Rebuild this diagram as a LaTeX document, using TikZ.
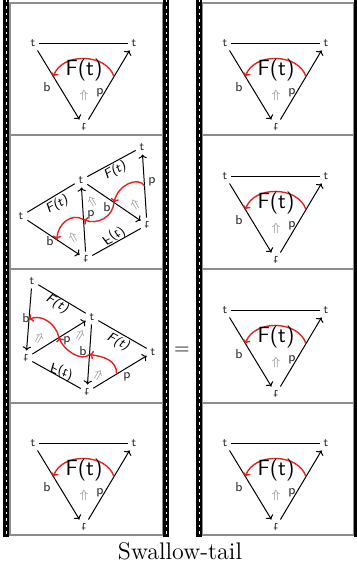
\documentclass[tikz,border=0pt]{standalone}
\usepackage{amsmath, amssymb}
\usepackage{tikz}
\usetikzlibrary{arrows.meta, calc}
\definecolor{arccolor}{RGB}{230,35,35}
\definecolor{framecolor}{RGB}{140,140,140}

\begin{document}
\begin{tikzpicture}[
    x=0.5pt, y=-0.5pt,
    vtx/.style={font=\sffamily\fontsize{6}{7}\selectfont, text=black!85, inner sep=1.8pt},
    vtxf/.style={vtx, yscale=-1},
    lab/.style={font=\sffamily\fontsize{6.5}{7}\selectfont, text=black!85, inner sep=0pt},
    bigf/.style={font=\sffamily\fontsize{11}{12}\selectfont, inner sep=0pt},
    slantf/.style={font=\sffamily\slshape\fontsize{6.5}{8}\selectfont, inner sep=0pt},
    uparr/.style={text=black!45, font=\fontsize{6}{7}\selectfont, inner sep=0pt},
    arrow/.style={-{To[length=2pt]}, line width=0.5pt},
    flatline/.style={line width=0.5pt},
    redarc/.style={-{To[length=2pt]}, arccolor, line width=0.7pt},
    filmbar/.style={line width=3pt},
    perf/.style={white, line width=0.4pt, dash pattern=on 1.2pt off 2pt},
    framebox/.style={framecolor, line width=0.7pt}
]
\useasboundingbox (0,0) rectangle (357,570);

% frames of the two strips
\draw[framebox] (10,3) rectangle (163,535);
\draw[framebox] (202,3) rectangle (354,535);
\draw[framebox] (10,135) -- (163,135) (10,269) -- (163,269) (10,403) -- (163,403);
\draw[framebox] (202,135) -- (354,135) (202,269) -- (354,269) (202,403) -- (354,403);

% film edges
\draw[filmbar] (6.5,0) -- (6.5,537);
\draw[perf] (6.5,0) -- (6.5,537);
\draw[filmbar] (166,0) -- (166,537);
\draw[perf] (166,0) -- (166,537);
\draw[filmbar] (199,0) -- (199,537);
\draw[perf] (199,0) -- (199,537);
\draw[filmbar] (357,0) -- (357,537);

% the plain triangle frames
\foreach \dx/\dy/\n in {0/0/a, 0/400/b, 192/0/c, 192/133/d, 192/267/e, 192/400/f} {
  \begin{scope}[shift={(\dx,\dy)}]
    \node[vtx] (tl\n) at (33,43) {t};
    \node[vtx] (tr\n) at (134,43) {t};
    \node[vtxf] (bt\n) at (84,127) {t};
    \draw[flatline] (tl\n) -- (tr\n);
    \draw[arrow] (tl\n) -- (bt\n);
    \draw[arrow] (bt\n) -- (tr\n);
    \coordinate (ra\n) at ($(bt\n)!0.6!(tr\n)$);
    \coordinate (la\n) at ($(bt\n)!0.6!(tl\n)$);
    \draw[redarc] (ra\n) .. controls +(-8,-24) and +(8,-24) .. (la\n);
    \node[bigf] (ft\n) at (84,70) {F(t)};
    \node[lab] (b\n) at (47,87) {b};
    \node[lab] (p\n) at (100,93) {p};
    \node[uparr] (up\n) at (84,95) {$\Uparrow$};
  \end{scope}
}

% second frame, left strip
\node[vtx] (a2) at (21,216) {t};
\node[vtx] (b2) at (81,180) {t};
\node[vtx] (c2) at (142,147) {t};
\node[vtxf] (d2) at (147,225) {t};
\node[vtxf] (e2) at (86,259) {t};
\draw[flatline] (a2) -- (b2);
\draw[flatline] (b2) -- (c2);
\draw[flatline] (e2) -- (d2);
\draw[arrow] (a2) -- (e2);
\draw[arrow] (e2) -- (b2);
\draw[arrow] (b2) -- (d2);
\draw[arrow] (d2) -- (c2);
\node[slantf, rotate=31] (fab2) at (57,205) {F(t)};
\node[slantf, rotate=31] (fbc2) at (115,171) {F(t)};
\node[slantf, rotate=26, yscale=-1] (fed2) at (113,236) {F(t)};
\node[lab] (bae2) at (50,241) {b};
\node[lab] (peb2) at (91,215) {p};
\node[lab] (bbd2) at (107,207) {b};
\node[lab] (pdc2) at (152,182) {p};
\node[uparr, rotate=30] (up2a) at (92,202) {$\Uparrow$};
\node[uparr, rotate=30] (up2b) at (73,238) {$\Uparrow$};
\node[uparr, rotate=30] (up2c) at (135,205) {$\Uparrow$};
\coordinate (r1s) at ($(d2)!0.5!(c2)$);
\coordinate (r1e) at ($(b2)!0.5!(d2)$);
\coordinate (r2e) at ($(e2)!0.5!(b2)$);
\coordinate (r3e) at ($(a2)!0.55!(e2)$);
\draw[redarc] (r1s) .. controls +(-6,-10) and +(4,-18) .. (r1e);
\draw[redarc] (r1e) .. controls +(-1,14) and +(14,6) .. (r2e);
\draw[redarc] (r2e) .. controls +(-12,-7) and +(1,-16) .. (r3e);

% third frame, left strip
\node[vtx] (a3) at (32,281) {t};
\node[vtxf] (b3) at (26,358) {t};
\node[vtx] (c3) at (92,317) {t};
\node[vtxf] (d3) at (87,392) {t};
\node[vtx] (e3) at (153,352) {t};
\draw[flatline] (a3) -- (c3);
\draw[flatline] (c3) -- (e3);
\draw[flatline] (b3) -- (d3);
\draw[arrow] (a3) -- (b3);
\draw[arrow] (b3) -- (c3);
\draw[arrow] (c3) -- (d3);
\draw[arrow] (d3) -- (e3);
\node[slantf, rotate=-30] (fac3) at (57,304) {F(t)};
\node[slantf, rotate=-28] (fce3) at (118,342) {F(t)};
\node[slantf, rotate=-28, yscale=-1] (fbd3) at (61,371) {F(t)};
\node[lab] (bab3) at (26,318) {b};
\node[lab] (pbc3) at (67,341) {p};
\node[lab] (bcd3) at (83,351) {b};
\node[lab] (pde3) at (127,377) {p};
\node[uparr, rotate=-30] (up3a) at (39,338) {$\Uparrow$};
\node[uparr, rotate=-30] (up3b) at (80,335) {$\Uparrow$};
\node[uparr, rotate=-30] (up3c) at (98,375) {$\Uparrow$};
\coordinate (s1) at ($(b3)!0.5!(c3)$);
\coordinate (e1) at ($(a3)!0.5!(b3)$);
\coordinate (s2) at ($(c3)!0.5!(d3)$);
\coordinate (s3) at ($(d3)!0.45!(e3)$);
\draw[redarc] (s1) .. controls +(-3,-14) and +(12,-6) .. (e1);
\draw[redarc] (s2) .. controls +(-8,8) and +(4,12) .. (s1);
\draw[redarc] (s3) .. controls +(0,-14) and +(14,2) .. (s2);

\node (eq) at (182,351) {$=$};
\node[font=\large] (caption) at (180,551) {Swallow-tail};
\end{tikzpicture}
\end{document}
